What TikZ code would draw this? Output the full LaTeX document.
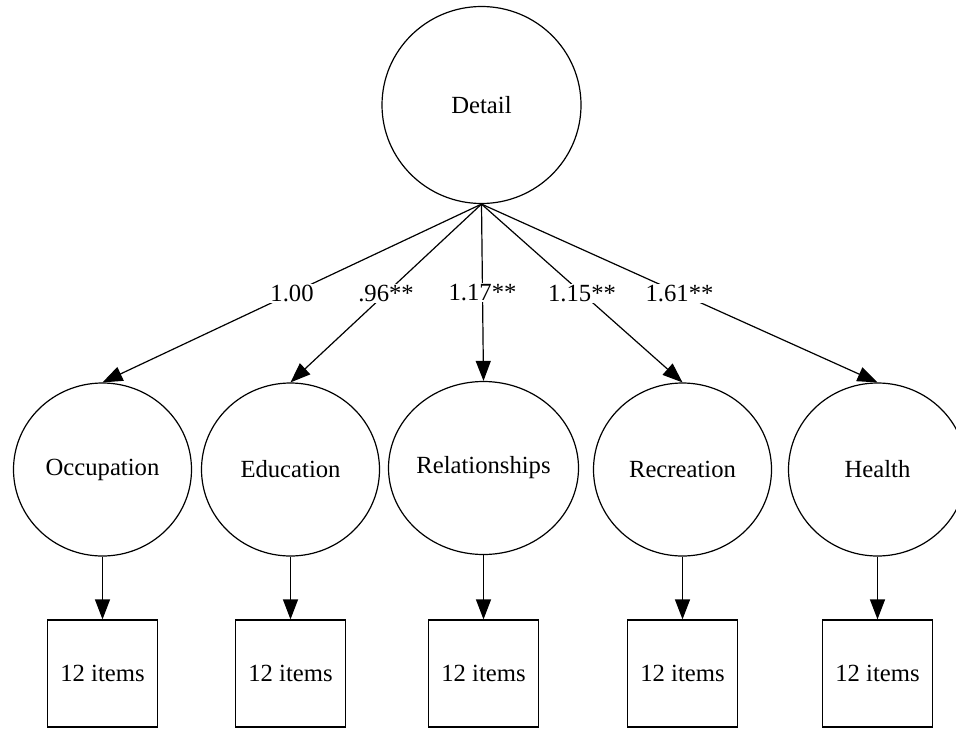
\documentclass[tikz,border=0pt]{standalone}
\usepackage{fontspec}
\setmainfont{Liberation Serif}
\usetikzlibrary{shapes.geometric,arrows.meta}
\begin{document}
\begin{tikzpicture}[x=0.75pt,y=-0.75pt,
  every node/.style={font=\fontsize{18.5pt}{22pt}\selectfont},
  latent/.style={draw,ellipse,line width=0.9pt,minimum width=133.5pt,minimum height=129.75pt,inner sep=0pt},
  observed/.style={draw,rectangle,line width=0.9pt,minimum width=82.5pt,minimum height=80.25pt,inner sep=0pt},
  path/.style={line width=0.9pt,-{Triangle[length=15pt,width=11.25pt]}},
  loading/.style={midway,fill=white,inner sep=1pt}]
\useasboundingbox (0,0) rectangle (956,728);

% second-order factor
\node[latent,minimum width=149.25pt,minimum height=147.75pt] (detail) at (481.5,105) {Detail};

% first-order factors
\node[latent] (occ) at (102.5,469.5) {Occupation};
\node[latent] (edu) at (290.5,469.5) {Education};
\node[latent,minimum width=142.5pt] (rel) at (483.5,468) {Relationships};
\node[latent] (rec) at (682.5,469.5) {Recreation};
\node[latent] (hea) at (877.5,469.5) {Health};

% indicator blocks
\node[observed] (occi) at (102.5,673.5) {12 items};
\node[observed] (edui) at (290.5,673.5) {12 items};
\node[observed] (reli) at (483.5,673.5) {12 items};
\node[observed] (reci) at (682.5,673.5) {12 items};
\node[observed] (heai) at (877.5,673.5) {12 items};

% factor loadings
\draw[path] (detail.south) -- (occ.north) node[loading] {1.00};
\draw[path] (detail.south) -- (edu.north) node[loading] {.96**};
\draw[path] (detail.south) -- (rel.north) node[loading] {1.17**};
\draw[path] (detail.south) -- (rec.north) node[loading] {1.15**};
\draw[path] (detail.south) -- (hea.north) node[loading] {1.61**};

% factor to items
\draw[path] (occ.south) -- (occi.north);
\draw[path] (edu.south) -- (edui.north);
\draw[path] (rel.south) -- (reli.north);
\draw[path] (rec.south) -- (reci.north);
\draw[path] (hea.south) -- (heai.north);
\end{tikzpicture}
\end{document}
